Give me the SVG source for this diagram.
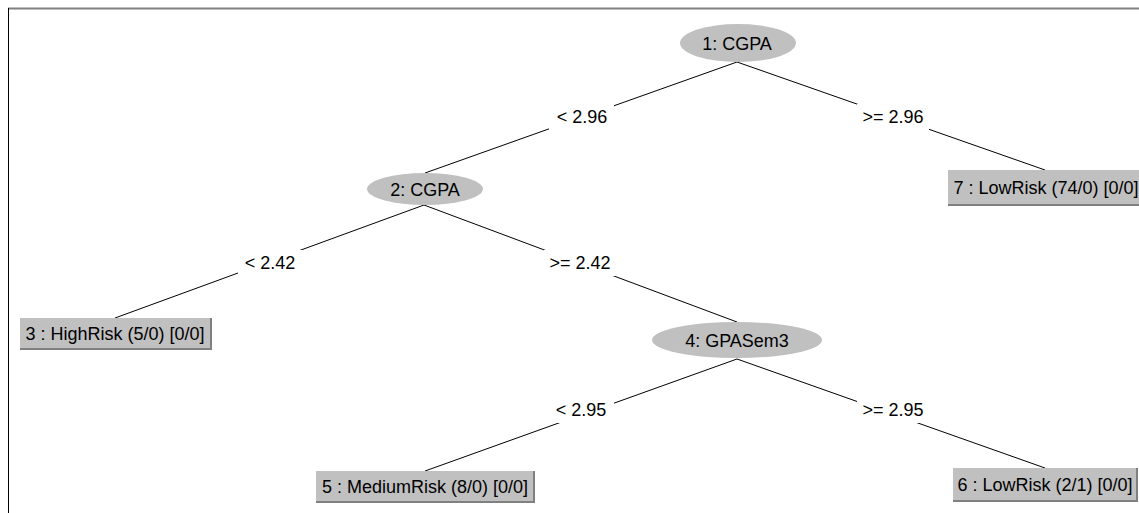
<svg xmlns="http://www.w3.org/2000/svg" width="1139" height="513" viewBox="0 0 1139 513">
<style>
text{font-family:"Liberation Sans",Arial,sans-serif;font-size:18px;fill:#000;text-anchor:middle}
.e{stroke:#000;stroke-width:1;fill:none}
.lb{fill:#fff}
.n{fill:#c0c0c0}
.b{fill:#c0c0c0}
.sh{stroke:#808080;stroke-width:2;fill:none}
</style>
<rect x="0" y="0" width="1139" height="513" fill="#fff"/>
<line x1="8" y1="8.5" x2="1139" y2="8.5" stroke="#808080" stroke-width="2"/>
<line x1="8.5" y1="8" x2="8.5" y2="513" stroke="#000" stroke-width="1"/>
<g id="connectors">
<line class="e" x1="737" y1="62" x2="425" y2="173"/>
<line class="e" x1="737" y1="62" x2="1045" y2="170"/>
<line class="e" x1="424" y1="205" x2="115" y2="318"/>
<line class="e" x1="424" y1="205" x2="737" y2="322"/>
<line class="e" x1="737" y1="359" x2="425" y2="471"/>
<line class="e" x1="737" y1="359" x2="1045" y2="468"/>
<rect class="lb" x="549" y="104" width="65" height="26"/>
<text x="582" y="123">&lt; 2.96</text>
<rect class="lb" x="857" y="104" width="72" height="26"/>
<text x="893" y="123">&gt;= 2.96</text>
<rect class="lb" x="238" y="250" width="65" height="26"/>
<text x="270" y="269">&lt; 2.42</text>
<rect class="lb" x="544" y="250" width="72" height="26"/>
<text x="580" y="269">&gt;= 2.42</text>
<rect class="lb" x="549" y="397" width="65" height="26"/>
<text x="581" y="416">&lt; 2.95</text>
<rect class="lb" x="857" y="397" width="72" height="26"/>
<text x="893" y="416">&gt;= 2.95</text>
</g>
<g id="node1">
<ellipse class="n" cx="738" cy="43" rx="58" ry="19"/>
<text x="737" y="50">1: CGPA</text>
</g>
<g id="node2">
<ellipse class="n" cx="425" cy="189" rx="58" ry="16"/>
<text x="425" y="196">2: CGPA</text>
</g>
<g id="node3">
<rect class="b" x="20" y="318" width="190" height="30"/>
<polyline class="sh" points="211,318 211,349 20,349"/>
<text x="115" y="340">3 : HighRisk (5/0) [0/0]</text>
</g>
<g id="node4">
<ellipse class="n" cx="737" cy="340" rx="85" ry="18"/>
<text x="737" y="347">4: GPASem3</text>
</g>
<g id="node5">
<rect class="b" x="316" y="471" width="217" height="30"/>
<polyline class="sh" points="534,471 534,502 316,502"/>
<text x="425" y="493">5 : MediumRisk (8/0) [0/0]</text>
</g>
<g id="node6">
<rect class="b" x="953" y="468" width="183" height="32"/>
<polyline class="sh" points="1137,468 1137,501 953,501"/>
<text x="1045" y="491">6 : LowRisk (2/1) [0/0]</text>
</g>
<g id="node7">
<rect class="b" x="948" y="170" width="196" height="34"/>
<polyline class="sh" points="948,205 1139,205"/>
<text x="1046" y="194">7 : LowRisk (74/0) [0/0]</text>
</g>
</svg>
